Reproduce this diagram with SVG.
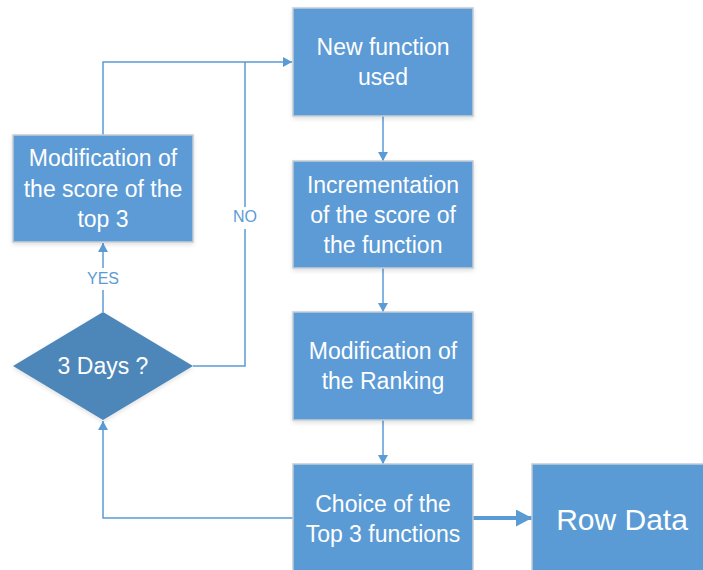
<svg xmlns="http://www.w3.org/2000/svg" width="703" height="570" viewBox="0 0 703 570">
<defs>
<style>
.box{fill:#5B9BD5;stroke:#C4CCD4;stroke-width:1.5}
.dia{fill:#4E86B9;stroke:none}
.t{font-family:"Liberation Sans",Arial,sans-serif;font-size:23px;fill:#FFFFFF;text-anchor:middle}
.big{font-size:30px}
.lbl{font-family:"Liberation Sans",Arial,sans-serif;font-size:16px;fill:#5B9BD5;text-anchor:middle}
.ln{fill:none;stroke:#5B9BD5;stroke-width:1.5}
.thick{fill:none;stroke:#5B9BD5;stroke-width:4}
</style>
<marker id="ah" viewBox="0 0 10 10" refX="10" refY="5" markerWidth="9" markerHeight="10" markerUnits="userSpaceOnUse" orient="auto" preserveAspectRatio="none">
<path d="M0,0 L10,5 L0,10 z" fill="#5B9BD5"/>
</marker>
<marker id="ahb" viewBox="0 0 10 10" refX="10" refY="5" markerWidth="16" markerHeight="17" markerUnits="userSpaceOnUse" orient="auto" preserveAspectRatio="none">
<path d="M0,0 L10,5 L0,10 z" fill="#5B9BD5"/>
</marker>
<filter id="sh" x="-10%" y="-10%" width="120%" height="130%">
<feDropShadow dx="0" dy="2" stdDeviation="2" flood-color="#000" flood-opacity="0.12"/>
</filter>
</defs>

<g id="connectors">
<path class="ln" d="M103,135 V62 H292" marker-end="url(#ah)"/>
<path class="ln" d="M193,366 H245 V62"/>
<path class="ln" d="M103,312 V243" marker-end="url(#ah)"/>
<path class="ln" d="M383,116 V161" marker-end="url(#ah)"/>
<path class="ln" d="M383,268 V312" marker-end="url(#ah)"/>
<path class="ln" d="M383,420 V464" marker-end="url(#ah)"/>
<path class="ln" d="M293,518 H103 V421" marker-end="url(#ah)"/>
<path class="thick" d="M473,518 H532" marker-end="url(#ahb)"/>
<rect x="229" y="207" width="32" height="22" fill="#FFFFFF"/>
<text class="lbl" x="245" y="222">NO</text>
<rect x="85" y="268" width="36" height="22" fill="#FFFFFF"/>
<text class="lbl" x="103" y="284">YES</text>
</g>

<g id="node-new-function">
<rect class="box" x="293" y="8" width="180" height="108" filter="url(#sh)"/>
<text class="t" x="383" y="55">New function</text>
<text class="t" x="383" y="85">used</text>
</g>

<g id="node-increment">
<rect class="box" x="293" y="161" width="180" height="107" filter="url(#sh)"/>
<text class="t" x="383" y="193">Incrementation</text>
<text class="t" x="383" y="223">of the score of</text>
<text class="t" x="383" y="253">the function</text>
</g>

<g id="node-ranking">
<rect class="box" x="293" y="312" width="180" height="108" filter="url(#sh)"/>
<text class="t" x="383" y="359">Modification of</text>
<text class="t" x="383" y="389">the Ranking</text>
</g>

<g id="node-choice">
<rect class="box" x="293" y="464" width="180" height="110"/>
<text class="t" x="383" y="512">Choice of the</text>
<text class="t" x="383" y="542">Top 3 functions</text>
</g>

<g id="node-row-data">
<rect class="box" x="532" y="464" width="180" height="110"/>
<text class="t big" x="622" y="530">Row Data</text>
</g>

<g id="node-modif-top3">
<rect class="box" x="13" y="135" width="180" height="107" filter="url(#sh)"/>
<text class="t" x="103" y="166">Modification of</text>
<text class="t" x="103" y="197">the score of the</text>
<text class="t" x="103" y="227">top 3</text>
</g>

<g id="node-3days">
<polygon class="dia" points="103,312 193,366 103,420 13,366" filter="url(#sh)"/>
<text class="t" x="103" y="374">3 Days ?</text>
</g>
</svg>
